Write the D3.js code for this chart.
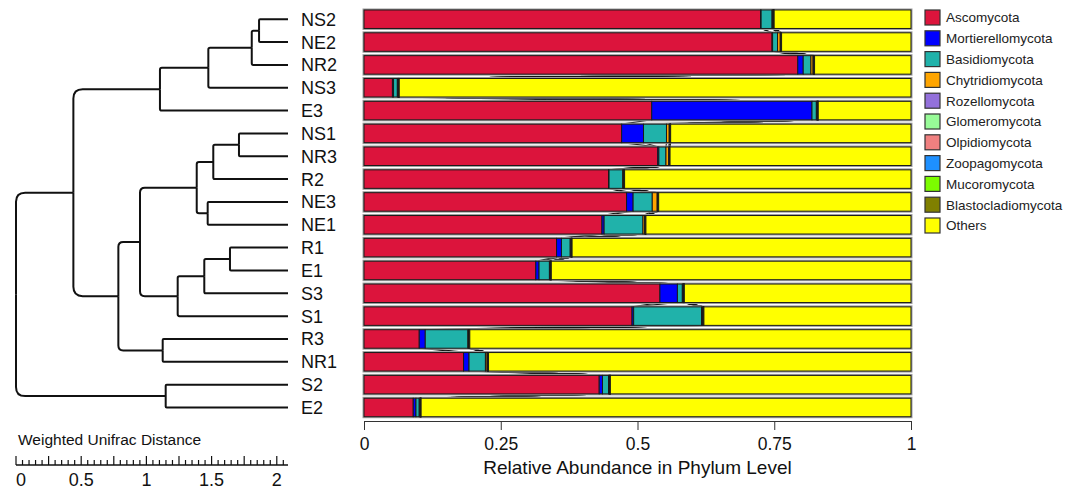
<!DOCTYPE html>
<html>
<head>
<meta charset="utf-8">
<script src="https://cdn.jsdelivr.net/npm/d3@7"></script>
<style>
  html, body { margin: 0; padding: 0; background: #fff; }
  svg { display: block; font-family: "Liberation Sans", Arial, sans-serif; }
</style>
</head>
<body>
<svg id="chart" width="1075" height="490"></svg>
<script>
// Samples in dendrogram leaf order (top to bottom)
const samples = ["NS2","NE2","NR2","NS3","E3","NS1","NR3","R2","NE3","NE1","R1","E1","S3","S1","R3","NR1","S2","E2"];

// Phylum names (stack order) and fill colours
const phyla = ["Ascomycota","Mortierellomycota","Basidiomycota","Chytridiomycota","Rozellomycota","Glomeromycota","Olpidiomycota","Zoopagomycota","Mucoromycota","Blastocladiomycota","Others"];
const phylaColors = ["#DC143C","#0000FF","#20B2AA","#FFA500","#9370DB","#98FB98","#F08080","#1E90FF","#7CFC00","#808000","#FFFF00"];

// Relative abundance per phylum, one value per sample (same order as samples)
const ascomycota        = [0.725,0.746,0.793,0.052,0.526,0.471,0.537,0.447,0.480,0.435,0.352,0.314,0.541,0.490,0.101,0.182,0.430,0.090];
const mortierellomycota = [0.001,0.001,0.010,0.002,0.293,0.040,0.002,0.001,0.012,0.004,0.009,0.006,0.032,0.003,0.011,0.010,0.006,0.005];
const basidiomycota     = [0.020,0.009,0.014,0.007,0.008,0.042,0.013,0.025,0.035,0.071,0.016,0.019,0.009,0.124,0.078,0.030,0.011,0.006];
const chytridiomycota   = [0.001,0.005,0.004,0.001,0.001,0.005,0.005,0.001,0.009,0.003,0.001,0.001,0.001,0.002,0.001,0.003,0.001,0.001];
const rozellomycota     = [0.001,0.001,0.001,0.001,0.001,0.001,0.001,0.001,0.001,0.001,0.001,0.001,0.001,0.001,0.001,0.001,0.001,0.001];
const glomeromycota     = [0.0005,0.0005,0.0005,0.0005,0.0005,0.0005,0.0005,0.0005,0.0005,0.0005,0.0005,0.0005,0.0005,0.0005,0.0005,0.0005,0.0005,0.0005];
const olpidiomycota     = [0.0003,0.0002,0.0003,0.0002,0.0002,0.0003,0.0003,0.0002,0.0003,0.0002,0.0002,0.0002,0.0003,0.0002,0.0002,0.0003,0.0002,0.0002];
const zoopagomycota     = [0.0003,0.0002,0.0002,0.0002,0.0002,0.0002,0.0002,0.0002,0.0002,0.0002,0.0002,0.0002,0.0002,0.0002,0.0002,0.0002,0.0002,0.0002];
const mucoromycota      = [0.0004,0.0003,0.0004,0.0003,0.0003,0.0004,0.0003,0.0003,0.0004,0.0003,0.0003,0.0003,0.0004,0.0003,0.0003,0.0004,0.0003,0.0003];
const blastocladiomycota= [0.0003,0.0002,0.0003,0.0002,0.0002,0.0002,0.0002,0.0002,0.0003,0.0002,0.0002,0.0002,0.0002,0.0002,0.0002,0.0003,0.0002,0.0002];

// Hierarchical clustering merges: [left, right, height]; "mN" refers to merge N
const merges = [
  ["NS2","NE2",0.222],   // m0
  ["m0","NR2",0.278],    // m1
  ["m1","NS3",0.611],    // m2
  ["m2","E3",0.982],     // m3
  ["NS1","NR3",0.376],   // m4
  ["m4","R2",0.573],     // m5
  ["NE3","NE1",0.616],   // m6
  ["m5","m6",0.700],     // m7
  ["R1","E1",0.445],     // m8
  ["m8","S3",0.642],     // m9
  ["m9","S1",0.846],     // m10
  ["m7","m10",1.135],    // m11
  ["R3","NR1",0.961],    // m12
  ["m11","m12",1.301],   // m13
  ["m3","m13",1.646],    // m14
  ["S2","E2",0.938],     // m15
  ["m14","m15",2.086]    // m16 (root)
];

const abundanceTicks = [0, 0.25, 0.5, 0.75, 1];
const distanceLabels = [0, 0.5, 1, 1.5, 2];

const svg = d3.select("#chart");

// ---- Scales ----
const x = d3.scaleLinear().domain([0, 1]).range([364, 911]);
const y = d3.scaleBand().domain(samples).range([7.8, 418.9]).paddingInner(0.19).paddingOuter(0.095);
const treeHeight = merges[merges.length - 1][2];
const tx = d3.scaleLinear().domain([0, treeHeight]).range([288, 16]);   // height above leaves -> x
const dist = d3.scaleLinear().domain([0, treeHeight]).range([16, 288]); // scale bar

// ---- Stacked data ----
const seriesValues = [ascomycota, mortierellomycota, basidiomycota, chytridiomycota, rozellomycota,
  glomeromycota, olpidiomycota, zoopagomycota, mucoromycota, blastocladiomycota];
const rows = samples.map((s, i) => {
  const r = { sample: s };
  let sum = 0;
  seriesValues.forEach((arr, k) => { r[phyla[k]] = arr[i]; sum += arr[i]; });
  r["Others"] = 1 - sum;
  return r;
});
const stacked = d3.stack().keys(phyla)(rows);
const color = d3.scaleOrdinal().domain(phyla).range(phylaColors);

// ---- Connectors between adjacent bars ----
const conn = svg.append("g").attr("stroke", "#111").attr("stroke-width", 1.1).attr("fill", "none");
for (let i = 0; i < samples.length - 1; i++) {
  const yb = y(samples[i]) + y.bandwidth();
  const yt = y(samples[i + 1]);
  stacked.slice(0, -1).forEach(layer => {
    conn.append("line")
      .attr("x1", x(layer[i][1])).attr("y1", yb)
      .attr("x2", x(layer[i + 1][1])).attr("y2", yt);
  });
}

// ---- Bars ----
svg.append("g").selectAll("rect").data(samples).join("rect")
  .attr("x", x(0)).attr("y", d => y(d))
  .attr("width", x(1) - x(0)).attr("height", y.bandwidth())
  .attr("fill", "none").attr("stroke", "#a0a0a0").attr("stroke-width", 3);

svg.append("g").selectAll("g").data(stacked).join("g")
  .attr("fill", d => color(d.key))
  .selectAll("rect").data(d => d).join("rect")
  .attr("x", d => x(d[0]))
  .attr("y", d => y(d.data.sample))
  .attr("width", d => Math.max(0, x(d[1]) - x(d[0])))
  .attr("height", y.bandwidth())
  .attr("stroke", "#1a1a1a").attr("stroke-width", 1);

// ---- Abundance axis ----
const axisG = svg.append("g").attr("transform", `translate(0,${421})`)
  .call(d3.axisBottom(x).tickValues(abundanceTicks).tickFormat(d3.format("")).tickSize(9).tickSizeOuter(0));
axisG.select(".domain").attr("stroke", "#333");
axisG.selectAll(".tick line").attr("stroke", "#333");
axisG.selectAll(".tick text").attr("font-size", 17.5).attr("fill", "#111").attr("dy", "0.95em")
  .attr("font-family", "Liberation Sans, Arial, sans-serif");
svg.append("text").attr("x", (x(0) + x(1)) / 2).attr("y", 474)
  .attr("text-anchor", "middle").attr("font-size", 19).attr("fill", "#111")
  .text("Relative Abundance in Phylum Level");

// ---- Dendrogram ----
const nodes = {};
samples.forEach(s => { nodes[s] = { x: tx(0), y: y(s) + y.bandwidth() / 2 }; });
const tree = svg.append("g").attr("fill", "none").attr("stroke", "#111").attr("stroke-width", 2);
merges.forEach((m, idx) => {
  const a = nodes[m[0]], b = nodes[m[1]];
  const nx = tx(m[2]), ny = (a.y + b.y) / 2;
  [a, b].forEach(c => {
    const dy = c.y - ny;
    const r = Math.min(10, Math.abs(dy) * 0.09);
    const sgn = Math.sign(dy);
    tree.append("path").attr("d",
      `M${c.x},${c.y}H${nx + r}Q${nx},${c.y} ${nx},${c.y - sgn * r}V${ny}`);
  });
  nodes["m" + idx] = { x: nx, y: ny };
});

// Leaf labels
svg.append("g").selectAll("text").data(samples).join("text")
  .attr("x", 301).attr("y", d => y(d) + y.bandwidth() / 2)
  .attr("dy", "0.36em").attr("font-size", 18).attr("fill", "#111")
  .text(d => d);

// ---- Distance scale bar ----
svg.append("text").attr("x", 18).attr("y", 445).attr("font-size", 15.5).attr("fill", "#111")
  .text("Weighted Unifrac Distance");
const sb = svg.append("g").attr("stroke", "#111");
sb.append("line").attr("x1", dist(0)).attr("x2", dist(treeHeight)).attr("y1", 465).attr("y2", 465).attr("stroke-width", 1.5);
d3.range(0, 42).map(k => k * 0.05).filter(v => v <= treeHeight).forEach((v, k) => {
  const major = k % 5 === 0;
  sb.append("line").attr("x1", dist(v)).attr("x2", dist(v))
    .attr("y1", major ? 456 : 460).attr("y2", 465).attr("stroke-width", 1.2);
});
svg.append("g").selectAll("text").data(distanceLabels).join("text")
  .attr("x", d => Math.max(dist(d), 21)).attr("y", 485.5)
  .attr("text-anchor", "middle").attr("font-size", 18).attr("fill", "#111")
  .text(d => d);

// ---- Legend ----
const lg = svg.append("g").attr("transform", "translate(925,10)");
const items = lg.selectAll("g").data(phyla).join("g")
  .attr("transform", (d, i) => `translate(0,${i * 20.8})`);
items.append("rect").attr("width", 15).attr("height", 15)
  .attr("fill", d => color(d)).attr("stroke", "#333").attr("stroke-width", 1.2);
items.append("text").attr("x", 21).attr("y", 7.5).attr("dy", "0.36em")
  .attr("font-size", 13.5).attr("fill", "#222").text(d => d);
</script>
</body>
</html>
